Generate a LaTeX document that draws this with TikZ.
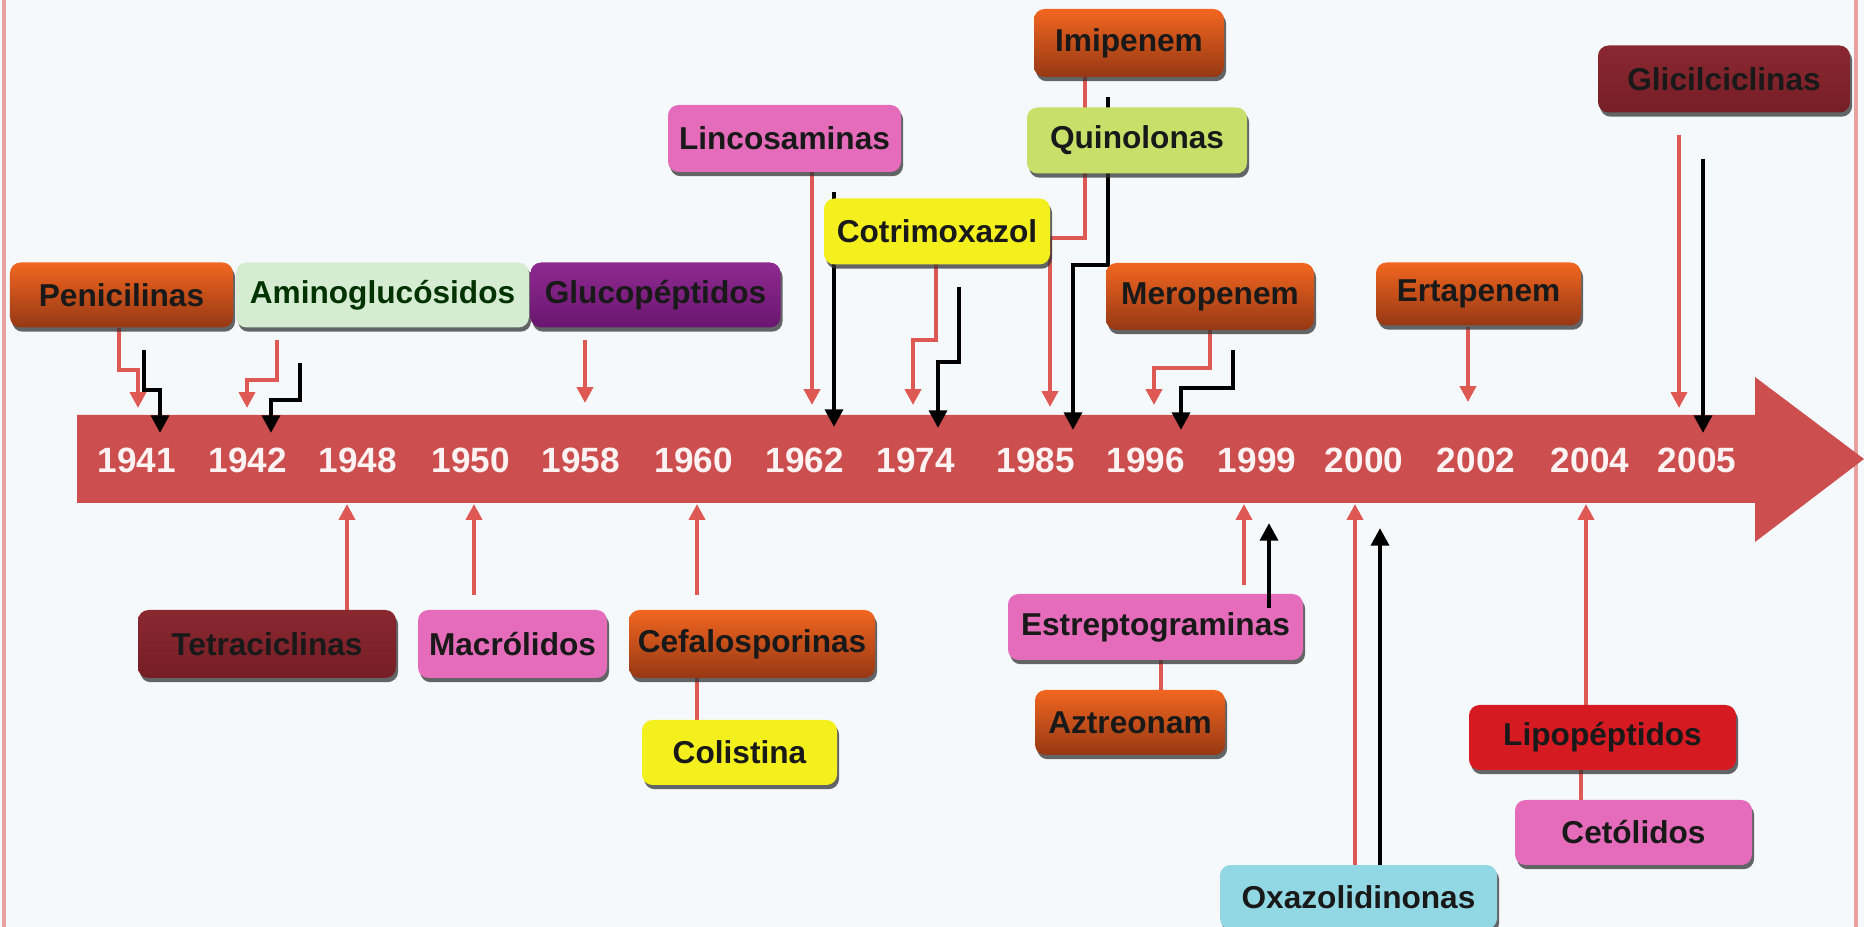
\documentclass[tikz,border=0pt]{standalone}
\usepackage{fontspec}
\setmainfont{Liberation Sans}
\usepackage{tikz}
\usetikzlibrary{arrows.meta,shadows}
\usepackage{xcolor}

\definecolor{bgc}{RGB}{246,249,251}
\definecolor{framec}{RGB}{232,160,160}
\definecolor{axisc}{RGB}{204,78,78}
\definecolor{redln}{RGB}{222,88,84}
\definecolor{orgtop}{RGB}{242,102,32}
\definecolor{orgbot}{RGB}{150,56,20}
\definecolor{martop}{RGB}{138,40,48}
\definecolor{marmid}{RGB}{186,68,74}
\definecolor{marbot}{RGB}{118,30,38}
\definecolor{pinkc}{RGB}{228,108,186}
\definecolor{yelc}{RGB}{244,240,30}
\definecolor{mintc}{RGB}{214,236,210}
\definecolor{purtop}{RGB}{142,42,144}
\definecolor{purbot}{RGB}{106,22,112}
\definecolor{limec}{RGB}{200,224,106}
\definecolor{lipoc}{RGB}{214,26,34}
\definecolor{skyc}{RGB}{146,216,228}

\begin{document}
\begin{tikzpicture}[
    drug/.style={rounded corners=3pt, minimum height=0.65cm, inner sep=1pt,
                 font=\fontsize{9}{10}\selectfont\bfseries, text=black!90,
                 drop shadow={shadow xshift=0.6pt, shadow yshift=-1.2pt,
                              opacity=0.75, fill=black!80}},
    orng/.style={drug, top color=orgtop, bottom color=orgbot},
    maroon/.style={drug, top color=martop, middle color=marmid, bottom color=marbot},
    pnk/.style={drug, fill=pinkc},
    yel/.style={drug, fill=yelc},
    yr/.style={font=\fontsize{10}{12}\selectfont\bfseries, text=white!95!red},
    rarr/.style={-{Triangle[width=4.5pt,length=4.5pt]}, line width=1.1pt, draw=redln},
    barr/.style={-{Triangle[width=5pt,length=5pt]}, line width=1.4pt, draw=black},
    rlin/.style={line width=1.1pt, draw=redln}
  ]
  \useasboundingbox (0,0) rectangle (18.64,-9.27);
  \fill[bgc] (0,0) rectangle (18.64,-9.27);
  \draw[framec, line width=1.2pt] (0.04,0) -- (0.04,-9.27);
  \draw[framec, line width=1.2pt] (18.56,0) -- (18.56,-9.27);

  %% --- time axis ---
  \fill[axisc] (0.77,-4.15) -- (17.55,-4.15) -- (17.55,-3.77) -- (18.64,-4.59)
               -- (17.55,-5.42) -- (17.55,-5.03) -- (0.77,-5.03) -- cycle;
  \foreach \x/\y in {1.37/1941, 2.48/1942, 3.58/1948, 4.71/1950, 5.81/1958,
                     6.94/1960, 8.05/1962, 9.16/1974, 10.36/1985, 11.46/1996,
                     12.57/1999, 13.64/2000, 14.76/2002, 15.90/2004, 16.97/2005}
    \node[yr] (y\y) at (\x,-4.60) {\y};

  %% --- connectors above the axis ---
  \draw[rarr] (1.19,-3.28) -- (1.19,-3.70) -| (1.38,-4.08);
  \draw[barr] (1.44,-3.50) -- (1.44,-3.90) -| (1.60,-4.33);
  \draw[rarr] (2.77,-3.40) -- (2.77,-3.80) -| (2.47,-4.08);
  \draw[barr] (3.00,-3.63) -- (3.00,-4.00) -| (2.71,-4.33);
  \draw[rarr] (5.85,-3.40) -- (5.85,-4.03);
  \draw[rarr] (8.12,-1.72) -- (8.12,-4.05);
  \draw[barr] (8.34,-1.92) -- (8.34,-4.27);
  \draw[rarr] (9.36,-2.63) -- (9.36,-3.40) -| (9.13,-4.05);
  \draw[barr] (9.59,-2.87) -- (9.59,-3.62) -| (9.38,-4.28);
  \draw[rarr] (10.85,-0.77) -- (10.85,-2.38) -| (10.50,-4.07);
  \draw[barr] (11.08,-0.97) -- (11.08,-2.65) -| (10.73,-4.30);
  \draw[rarr] (12.10,-3.30) -- (12.10,-3.68) -| (11.54,-4.05);
  \draw[barr] (12.33,-3.50) -- (12.33,-3.88) -| (11.81,-4.30);
  \draw[rarr] (14.68,-3.27) -- (14.68,-4.02);
  \draw[rarr] (16.79,-1.35) -- (16.79,-4.08);
  \draw[barr] (17.03,-1.59) -- (17.03,-4.33);

  %% --- connectors below the axis ---
  \draw[rarr] (3.47,-6.10) -- (3.47,-5.04);
  \draw[rarr] (4.74,-5.95) -- (4.74,-5.04);
  \draw[rarr] (6.97,-5.95) -- (6.97,-5.04);
  \draw[rlin] (6.97,-6.78) -- (6.97,-7.20);
  \draw[rarr] (12.44,-5.85) -- (12.44,-5.04);
  \draw[rlin] (11.61,-6.60) -- (11.61,-6.90);
  \draw[rarr] (13.55,-8.65) -- (13.55,-5.04);
  \draw[barr] (13.80,-8.65) -- (13.80,-5.28);
  \draw[rarr] (15.86,-7.05) -- (15.86,-5.04);
  \draw[rlin] (15.81,-7.70) -- (15.81,-8.00);

  %% --- classes above ---
  \node[orng, minimum width=2.23cm] (pen) at (1.215,-2.95) {Penicilinas};
  \node[drug, fill=mintc, text=black!80!green, minimum width=2.93cm] (amino) at (3.825,-2.95) {Aminoglucósidos};
  \node[drug, top color=purtop, bottom color=purbot, minimum width=2.50cm] (gluco) at (6.555,-2.95) {Glucopéptidos};
  \node[pnk, minimum width=2.33cm, minimum height=0.67cm] (linco) at (7.845,-1.385) {Lincosaminas};
  \node[yel, minimum width=2.26cm, minimum height=0.66cm] (cotri) at (9.37,-2.315) {Cotrimoxazol};
  \node[orng, minimum width=1.90cm, minimum height=0.68cm] (imip) at (11.29,-0.43) {Imipenem};
  \node[drug, fill=limec, minimum width=2.20cm, minimum height=0.66cm] (quino) at (11.37,-1.405) {Quinolonas};
  \node[orng, minimum width=2.08cm, minimum height=0.67cm] (mero) at (12.10,-2.965) {Meropenem};
  \node[orng, minimum width=2.05cm, minimum height=0.63cm] (erta) at (14.785,-2.94) {Ertapenem};
  \node[maroon, minimum width=2.52cm, minimum height=0.67cm] (glici) at (17.24,-0.79) {Glicilciclinas};

  %% --- classes below ---
  \node[maroon, minimum width=2.58cm, minimum height=0.68cm] (tetra) at (2.67,-6.44) {Tetraciclinas};
  \node[pnk, minimum width=1.89cm, minimum height=0.68cm] (macro) at (5.125,-6.44) {Macrólidos};
  \node[orng, minimum width=2.46cm, minimum height=0.68cm] (cefa) at (7.52,-6.44) {Cefalosporinas};
  \node[yel, minimum width=1.95cm] (coli) at (7.395,-7.525) {Colistina};
  \node[pnk, minimum width=2.95cm, minimum height=0.66cm] (estrep) at (11.555,-6.27) {Estreptograminas};
  \node[orng, minimum width=1.90cm] (aztr) at (11.30,-7.225) {Aztreonam};
  \node[drug, fill=skyc, minimum width=2.77cm, minimum height=0.64cm] (oxa) at (13.585,-8.97) {Oxazolidinonas};
  \node[drug, fill=lipoc, minimum width=2.67cm] (lipo) at (16.025,-7.375) {Lipopéptidos};
  \node[pnk, minimum width=2.37cm] (ceto) at (16.335,-8.325) {Cetólidos};

  \draw[barr] (12.69,-6.08) -- (12.69,-5.23);
\end{tikzpicture}
\end{document}
